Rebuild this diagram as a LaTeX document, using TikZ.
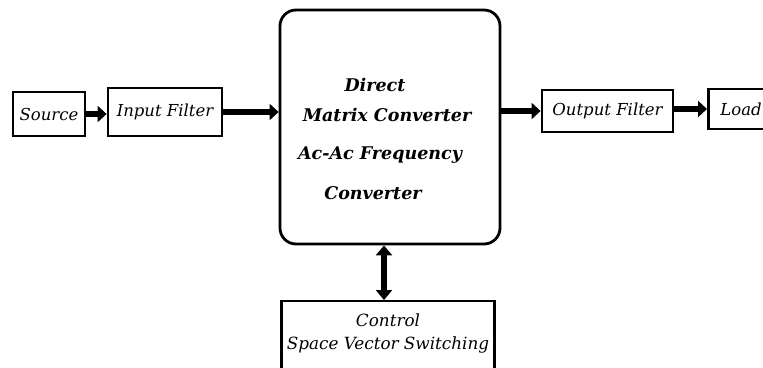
\documentclass[tikz,border=0pt]{standalone}
\usepackage{fontspec}
\setmainfont{DejaVu Serif}
\usetikzlibrary{arrows.meta}
\usetikzlibrary{calc}

\tikzset{
  blk/.style={draw,line width=2.8pt,inner xsep=8pt,minimum height=44pt,font=\fontsize{16.5}{20}\selectfont\itshape},
  mainblk/.style={draw,line width=2.8pt,rounded corners=16pt,minimum width=220pt,minimum height=234pt},
  btxt/.style={font=\fontsize{17.5}{20}\selectfont\bfseries\itshape},
  flow/.style={line width=6pt,-{Triangle[length=9pt,width=16pt]}},
  both/.style={line width=6pt,{Triangle[length=10pt,width=16pt]}-{Triangle[length=10pt,width=16pt]}}
}

\begin{document}
\begin{tikzpicture}[x=1pt,y=-1pt]
\useasboundingbox (0,0) rectangle (763,367);
\clip (0,0) rectangle (763,367);
\node[blk,minimum width=72pt,inner xsep=2pt] (src) at (49,114) {Source};
\node[blk,minimum width=114pt,minimum height=48pt] (inf) at (165,112) {Input Filter};
\node[mainblk] (mc) at (390,127) {};
\node[btxt] (t1) at (375,85) {Direct};
\node[btxt] (t2) at (387,115) {Matrix Converter};
\node[btxt] (t3) at (380,155) {Ac-Ac Frequency};
\node[btxt] (t4) at (373,193) {Converter};
\node[blk,minimum width=131pt,minimum height=42pt] (outf) at (607.5,111) {Output Filter};
\node[blk,anchor=west,inner xsep=12pt,minimum height=40pt] (load) at (707,109) {Load};
\node[draw,line width=2.4pt,minimum width=213pt,inner xsep=1pt,inner ysep=13pt,anchor=north,
      align=center,font=\fontsize{16.8}{23}\selectfont\itshape,text depth=28pt] (ctl) at (388,300)
      {Control\\Space Vector Switching};
\draw[flow] (src.east) -- (src.east -| inf.west);
\draw[flow] (inf.east) -- (inf.east -| mc.west);
\draw[flow] (mc.east |- outf.west) -- (outf.west);
\draw[flow] (outf.east |- load.west) -- (load.west);
\draw[both] ([xshift=-6pt]mc.south) -- ([xshift=-6pt]mc.south |- ctl.north);
\end{tikzpicture}
\end{document}
